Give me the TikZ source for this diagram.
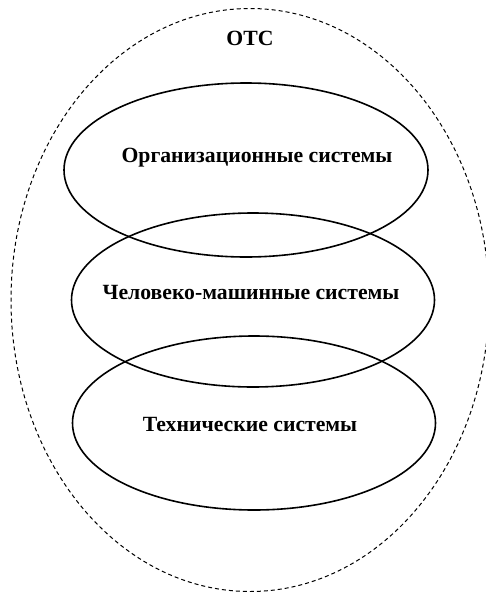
\documentclass[tikz,border=0pt]{standalone}
\usepackage{fontspec}
\setmainfont{Liberation Serif}
\usetikzlibrary{shapes.geometric, calc}
\tikzset{
    sysellipse/.style={draw, ellipse, line width=1.6pt, inner sep=0pt, minimum width=363pt, minimum height=174pt},
    syslabel/.style={font=\fontsize{21.7}{26}\selectfont\bfseries, inner sep=0pt}
}

\begin{document}
\begin{tikzpicture}[x=1pt, y=-1pt]
    \useasboundingbox (0,0) rectangle (485,592);
    \node[draw, ellipse, dashed, dash pattern=on 4pt off 3pt, line width=1pt, inner sep=0pt, minimum width=478pt, minimum height=583pt] (ots) at (250,300) {};
    \node[syslabel] (otslabel) at (250,38) {ОТС};

    \node[sysellipse, minimum width=364pt] (org) at (246,170) {};
    \node[sysellipse] (hm) at (253,300) {};
    \node[sysellipse] (tech) at (254,423) {};

    \node[syslabel] (orglabel) at (257,158) {Организационные системы};
    \node[syslabel] (hmlabel) at (251,292) {Человеко-машинные системы};
    \node[syslabel] (techlabel) at (250,424) {Технические системы};
\end{tikzpicture}
\end{document}
